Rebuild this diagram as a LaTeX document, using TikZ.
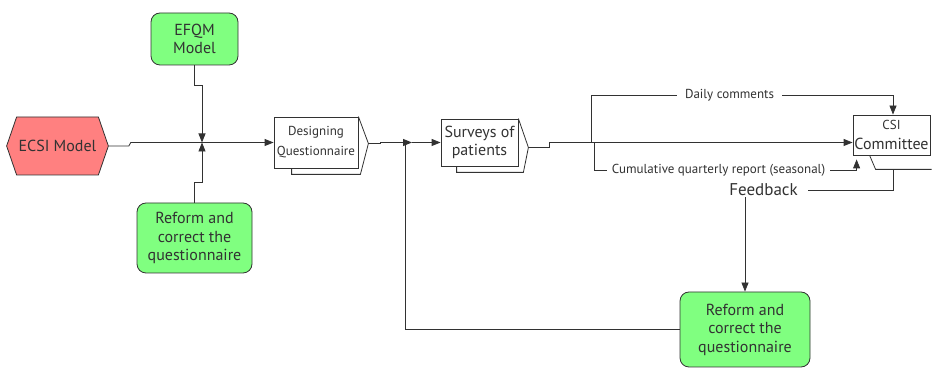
\documentclass[tikz,border=0pt]{standalone}
\usepackage{fontspec}
\setmainfont{PT Sans}
\usetikzlibrary{arrows.meta,shapes.symbols,calc}
\definecolor{boxgreen}{RGB}{128,255,128}
\definecolor{hexred}{RGB}{255,128,128}
\definecolor{inkgray}{RGB}{50,50,50}
\newcommand{\bigtxt}{\fontsize{16}{18.5}\selectfont}
\newcommand{\smalltxt}{\fontsize{13}{15}\selectfont}
\tikzset{
  ln/.style={draw=inkgray, line width=0.8pt},
  arr/.style={ln, -{Triangle[length=9pt,width=7pt]}},
  greenbox/.style={draw=inkgray, line width=0.8pt, fill=boxgreen, rounded corners=9pt,
    align=center, text=inkgray, font=\bigtxt, inner sep=2pt},
  hexbox/.style={draw=inkgray, line width=0.8pt, fill=hexred, shape=signal,
    signal to=west and east, signal pointer angle=142, minimum width=95pt,
    minimum height=58pt, text=inkgray, font=\bigtxt, inner sep=2pt},
  stepbox/.style={draw=inkgray, line width=0.8pt, align=center, text=inkgray, inner sep=1pt},
  lbl/.style={text=inkgray, font=\smalltxt, fill=white, inner ysep=1pt}
}
\begin{document}
\begin{tikzpicture}[x=1pt,y=1pt]
\useasboundingbox (0,0) rectangle (932,369);
% inputs
\node[greenbox, minimum width=87pt, minimum height=52pt] (efqm) at (194.5,330) {EFQM\\Model};
\node[greenbox, minimum width=115pt, minimum height=70pt] (ref1) at (194.5,131) {Reform and\\correct the\\questionnaire};
\node[hexbox] (ecsi) at (57.5,223) {ECSI Model};
% process steps
\node[stepbox, font=\smalltxt, minimum width=84pt, minimum height=51pt] (des) at (316,226.5) {Designing\\[5pt]Questionnaire};
\coordinate (des tip) at ($(des.east)+(10,-1)$);
\draw[ln] ($(des.south west)+(18,0)$) -- ++(0,-6) -- ($(des.south east)+(2,-6)$) -- (des tip) -- (des.north east);
\node[stepbox, font=\bigtxt, minimum width=77pt, minimum height=47pt] (sv) at (479.5,226.5) {Surveys of\\patients};
\coordinate (sv tip) at ($(sv.east)+(10,-5)$);
\draw[ln] ($(sv.south west)+(16,0)$) -- ++(0,-6) -- ($(sv.south east)+(5,-6)$) -- (sv tip) -- (sv.north east);
\node[stepbox, font=\bigtxt, minimum width=77pt, minimum height=40pt] (csi) at (891.5,234) {{\smalltxt CSI}\\[1pt]Committee};
\coordinate (csib) at ($(csi.south)+(1.5,-14)$);
\draw[ln] ($(csi.south west)+(17,0)$) -- ++(6,-14) -- ++(56,0);
\node[greenbox, minimum width=130pt, minimum height=75pt] (ref2) at (745,39.5) {Reform and\\correct the\\questionnaire};
% labels on the lines
\node[lbl, inner xsep=8pt] (dc) at (729.5,274) {Daily comments};
\node[lbl, inner xsep=5pt] (cq) at (718.5,199) {Cumulative quarterly report (seasonal)};
\node[lbl, font=\fontsize{17}{20}\selectfont, inner xsep=10pt] (fb) at (763.5,179) {Feedback};
% junctions
\coordinate (j1) at (202,226.5);
\coordinate (j2) at (412,226.5);
\coordinate (dcs) at (591,226.5);
\coordinate (cqs) at (594,226.5);
% connectors
\draw[arr] (ecsi.east) -- ++(20,0) -- ++(2,3.5) -- (des.west);
\draw[arr] (efqm.south) -- ++(0,-20) -| (j1);
\draw[arr] (ref1.north) -- ++(0,20) -| (j1);
\draw[arr] (des tip) -- ++(12,0) -- ++(0,1) -- (j2);
\draw[arr] (j2) -- (sv.west);
\draw[ln] (ref2.west) -| ([xshift=-7]j2);
\draw[arr] (sv tip) -- ++(21,0) -- ++(0,5) -- ([yshift=-7.5]csi.west);
\draw[ln] (dcs) |- (dc.west);
\draw[arr] (dc.east) -| ([xshift=1.5]csi.north);
\draw[ln] (cqs) |- (cq.west);
\draw[arr] (cq.east) -| ($(csi.south west)+(4,-4)$);
\draw[ln] (csib) |- (fb.east);
\draw[arr] (fb.south -| ref2.north) -- (ref2.north);
\end{tikzpicture}
\end{document}
